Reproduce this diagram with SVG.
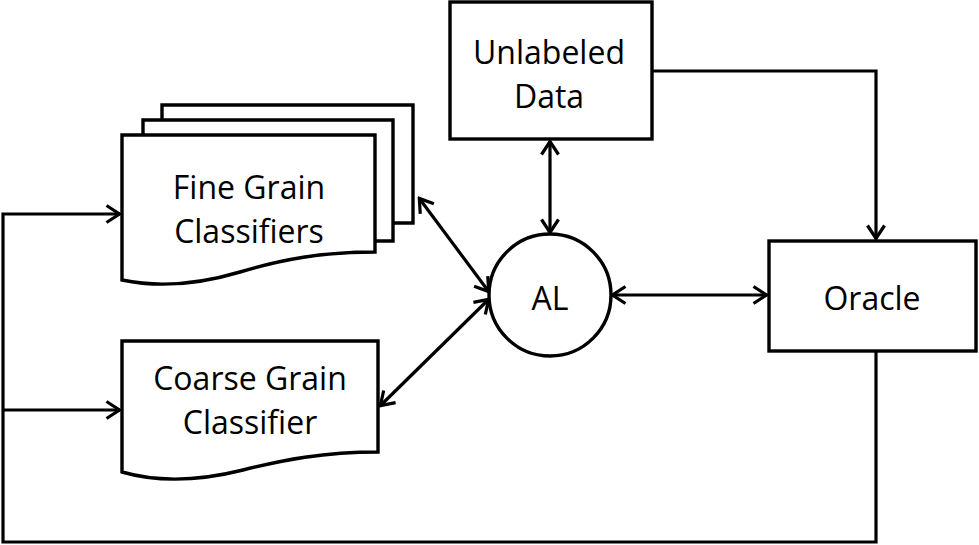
<svg xmlns="http://www.w3.org/2000/svg" width="979" height="545" viewBox="0 0 979 545">
<style>
.s{fill:#fff;stroke:#000;stroke-width:3.4;stroke-linejoin:miter}
.c{fill:none;stroke:#000;stroke-width:3.2}
.t{font-family:"Open Sans",Lato,sans-serif;font-size:32px;fill:#000;text-anchor:middle}
</style>
<defs>
<marker id="a" viewBox="0 0 17 20" refX="15.5" refY="10" markerWidth="17" markerHeight="20" markerUnits="userSpaceOnUse" orient="auto-start-reverse">
<path d="M2,1.5 L15,10 L2,18.5" fill="none" stroke="#000" stroke-width="3.2"/>
</marker>
</defs>
<rect width="979" height="545" fill="#fff"/>
<g id="connectors">
<path class="c" d="M652,71 H876 V239" marker-end="url(#a)"/>
<path class="c" d="M876,351 V542 H3 V214 H120" marker-end="url(#a)"/>
<path class="c" d="M3,410 H120" marker-end="url(#a)"/>
<path class="c" d="M550,141 V233" marker-start="url(#a)" marker-end="url(#a)"/>
<path class="c" d="M612,295 H767" marker-start="url(#a)" marker-end="url(#a)"/>
<path class="c" d="M419,198 L489,292" marker-start="url(#a)" marker-end="url(#a)"/>
<path class="c" d="M380,406 L489,299" marker-start="url(#a)" marker-end="url(#a)"/>
</g>
<g id="unlabeled-data">
<rect class="s" x="450" y="2" width="202" height="137"/>
<text class="t" x="549" y="64">Unlabeled</text>
<text class="t" x="549" y="108">Data</text>
</g>
<g id="oracle">
<rect class="s" x="769" y="241" width="207" height="110"/>
<text class="t" x="872" y="310">Oracle</text>
</g>
<g id="al">
<circle class="s" cx="550" cy="295" r="61"/>
<text class="t" x="550" y="310">AL</text>
</g>
<g id="fine-grain">
<path class="s" d="M162,105 H413 V223 H162 Z"/>
<path class="s" d="M143,120 H393 V241 H143 Z"/>
<path class="s" d="M122,135 H375 V252 C320,252 280,260 240,272 C200,284 160,288 122,280 Z"/>
<text class="t" x="249" y="199">Fine Grain</text>
<text class="t" x="249" y="243">Classifiers</text>
</g>
<g id="coarse-grain">
<path class="s" d="M122,341 H378 V452 C323,452 283,460 243,470 C203,480 160,483 122,472 Z"/>
<text class="t" x="250" y="390">Coarse Grain</text>
<text class="t" x="250" y="434">Classifier</text>
</g>
</svg>
